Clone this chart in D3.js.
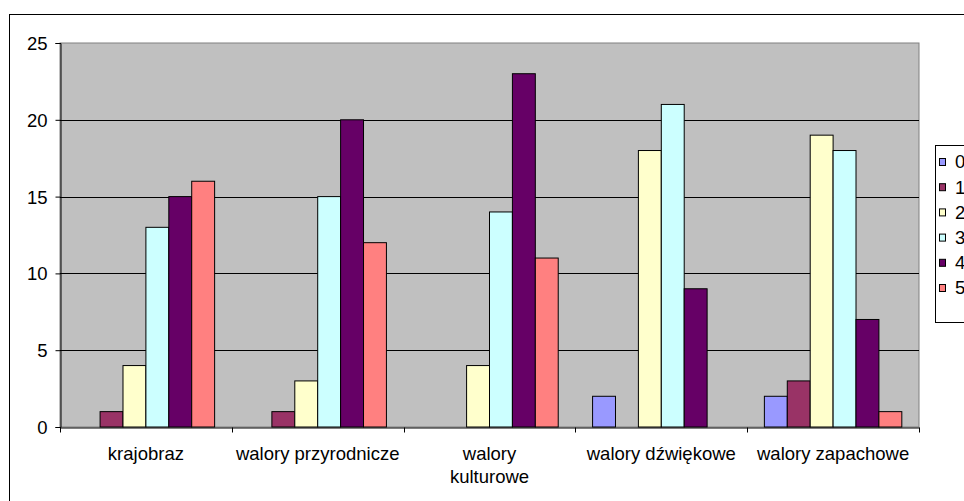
<!DOCTYPE html>
<html>
<head>
<meta charset="utf-8">
<script src="https://cdn.jsdelivr.net/npm/d3@7"></script>
<style>
    body { margin: 0; background: #fff; }
    svg text { font-family: 'Liberation Sans', Arial, sans-serif; fill: #000; }
</style>
</head>
<body>
<div id="chart"></div>
<script>
const categories = ['krajobraz', 'walory przyrodnicze', 'walory kulturowe', 'walory dźwiękowe', 'walory zapachowe'];
const seriesNames = ['0', '1', '2', '3', '4', '5'];
const seriesColors = ['#9999FF', '#993366', '#FFFFCC', '#CCFFFF', '#660066', '#FF8080'];
const values = [
    [0, 1, 4, 13, 15, 16],
    [0, 1, 3, 15, 20, 12],
    [0, 0, 4, 14, 23, 11],
    [2, 0, 18, 21, 9, 0],
    [2, 3, 19, 18, 7, 1],
];
const yTicks = [0, 5, 10, 15, 20, 25];

const width = 964, height = 501;
const plot = { left: 60, top: 43, right: 919, bottom: 427 };
const fontSize = 18.5;

const svg = d3.select('#chart').append('svg')
    .attr('width', width)
    .attr('height', height);

// chart frame (runs off the window at right and bottom)
svg.append('rect')
    .attr('x', 9.5).attr('y', 14.5)
    .attr('width', 1000).attr('height', 600)
    .attr('fill', '#fff').attr('stroke', '#000');

const x0 = d3.scaleBand().domain(categories).range([plot.left, plot.right]);
const barW = x0.bandwidth() / 7.5;
const x1 = d3.scaleBand().domain(seriesNames)
    .range([barW * 0.75, barW * 6.75]);
const y = d3.scaleLinear().domain([0, 25]).range([plot.bottom, plot.top]);

// plot background
svg.append('rect')
    .attr('x', plot.left).attr('y', plot.top)
    .attr('width', plot.right - plot.left).attr('height', plot.bottom - plot.top)
    .attr('fill', '#C0C0C0').attr('stroke', '#808080');

// gridlines
svg.append('g').selectAll('line')
    .data(yTicks.filter(t => t > 0 && t < 25))
    .enter().append('line')
        .attr('x1', plot.left).attr('x2', plot.right)
        .attr('y1', d => Math.round(y(d)) + 0.5).attr('y2', d => Math.round(y(d)) + 0.5)
        .attr('stroke', '#000');

// bars
const groups = svg.append('g').selectAll('g')
    .data(values)
    .enter().append('g')
        .attr('transform', (d, i) => `translate(${x0(categories[i])},0)`);

groups.selectAll('rect')
    .data(d => d.map((v, s) => ({ v, s })).filter(b => b.v > 0))
    .enter().append('rect')
        .attr('x', b => x1(seriesNames[b.s]))
        .attr('y', b => y(b.v))
        .attr('width', x1.bandwidth())
        .attr('height', b => y(0) - y(b.v))
        .attr('fill', b => seriesColors[b.s])
        .attr('stroke', '#000')
        .attr('stroke-width', 1);

// y axis
const yAxis = svg.append('g')
    .attr('transform', `translate(${plot.left + 0.5},0)`)
    .call(d3.axisLeft(y).tickValues(yTicks).tickSize(5).tickPadding(8));
yAxis.select('.domain').attr('stroke', '#000');
yAxis.selectAll('.tick line').attr('stroke', '#000');
yAxis.selectAll('text')
    .style('font-size', fontSize + 'px')
    .attr('dy', '0.35em');

// x axis
const xAxis = svg.append('g')
    .attr('transform', `translate(0,${plot.bottom + 0.5})`)
    .call(d3.axisBottom(x0).tickSize(0).tickPadding(0));
xAxis.select('.domain').attr('stroke', '#000');
xAxis.selectAll('.tick text').remove();

// x ticks on category boundaries
xAxis.append('g').selectAll('line')
    .data(categories.map((c, i) => i).concat([categories.length]))
    .enter().append('line')
        .attr('x1', i => Math.round(plot.left + i * x0.step()) + 0.5)
        .attr('x2', i => Math.round(plot.left + i * x0.step()) + 0.5)
        .attr('y1', 0).attr('y2', 5)
        .attr('stroke', '#000');

// category labels, wrapped when they do not fit
const labelLines = c => c === 'walory kulturowe' ? ['walory', 'kulturowe'] : [c];
svg.append('g').selectAll('text')
    .data(categories)
    .enter().append('text')
        .attr('text-anchor', 'middle')
        .style('font-size', fontSize + 'px')
        .attr('x', c => x0(c) + x0.bandwidth() / 2)
        .attr('y', 460)
        .each(function(c) {
            const t = d3.select(this);
            labelLines(c).forEach((line, k) => {
                t.append('tspan')
                    .attr('x', x0(c) + x0.bandwidth() / 2)
                    .attr('y', 460 + k * 23)
                    .text(line);
            });
        });

// legend
const legend = svg.append('g');
legend.append('rect')
    .attr('x', 935.5).attr('y', 145.5)
    .attr('width', 100).attr('height', 177)
    .attr('fill', '#fff').attr('stroke', '#000');

const legendItems = legend.selectAll('g.item')
    .data(seriesNames)
    .enter().append('g')
        .attr('class', 'item')
        .attr('transform', (d, i) => `translate(0,${162 + i * 25.2})`);
legendItems.append('rect')
    .attr('x', 939.5).attr('y', -3.5)
    .attr('width', 6).attr('height', 7)
    .attr('fill', (d, i) => seriesColors[i])
    .attr('stroke', '#000');
legendItems.append('text')
    .attr('x', 955).attr('y', 0).attr('dy', '0.35em')
    .style('font-size', fontSize + 'px')
    .text(d => d);
</script>
</body>
</html>
